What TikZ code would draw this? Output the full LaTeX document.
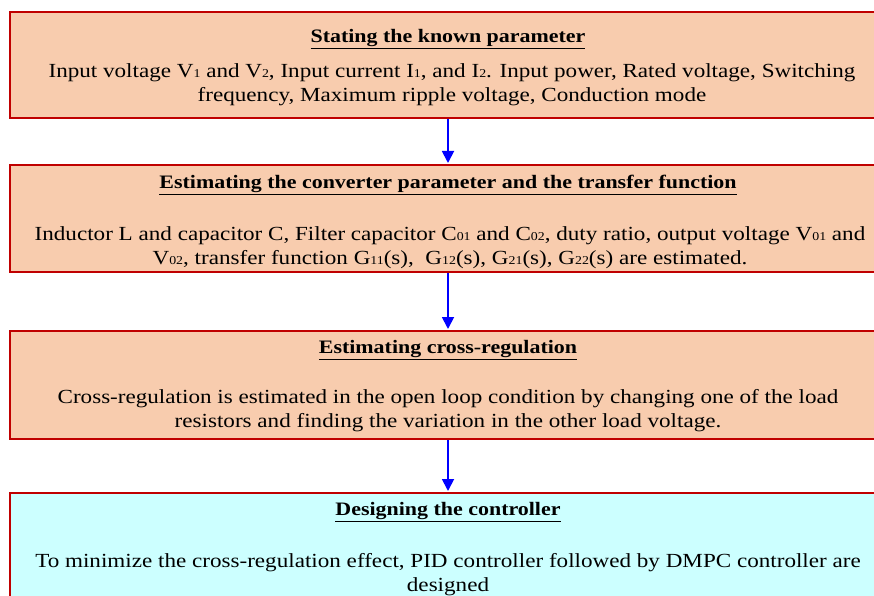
\documentclass[tikz,border=0pt]{standalone}
\usepackage{fontspec}
\setmainfont{Liberation Serif}[FakeStretch=1.155]
\usetikzlibrary{arrows.meta}
\definecolor{boxred}{RGB}{192,0,0}
\definecolor{salmon}{RGB}{248,204,174}
\definecolor{palecyan}{RGB}{204,255,255}
\newcommand\sbs[1]{{\fontsize{12}{12}\selectfont #1}}
\tikzset{
  stage/.style={draw=boxred, line width=2pt, fill=salmon, minimum width=876pt, inner sep=0pt},
  ctrlstage/.style={stage, fill=palecyan},
  heading/.style={font=\fontsize{19}{22}\selectfont\bfseries, inner sep=0pt},
  body/.style={font=\fontsize{20}{24}\selectfont, align=center, inner sep=0pt},
  flow/.style={draw={rgb,255:red,0;green,0;blue,255}, line width=1.8pt,
    -{Triangle[length=12pt,width=12pt]}, shorten >=1pt}
}
\begin{document}
\begin{tikzpicture}[x=1pt,y=-1pt]
\clip (0,0) rectangle (874,596);
\fill[white] (0,0) rectangle (874,596);

% stage boxes
\node[stage, minimum height=106pt] (b1) at (448,65) {};
\node[stage, minimum height=107pt] (b2) at (448,218.5) {};
\node[stage, minimum height=108pt] (b3) at (448,385) {};
\node[ctrlstage, minimum height=130pt] (b4) at (448,558) {};

% headings
\node[heading] (h1) at (448,39) {\underline{Stating the known parameter}};
\node[heading] (h2) at (448,185) {\underline{Estimating the converter parameter and the transfer function}};
\node[heading] (h3) at (448,350) {\underline{Estimating cross-regulation}};
\node[heading] (h4) at (448,512) {\underline{Designing the controller}};

% descriptions
\node[body] (d1) at (452,85) {Input voltage V\sbs{1} and V\sbs{2}, Input current I\sbs{1}, and I\sbs{2}. Input power, Rated voltage, Switching\\
frequency, Maximum ripple voltage, Conduction mode};
\node[body] (d2) at (450,248) {Inductor L and capacitor C, Filter capacitor C\sbs{01} and C\sbs{02}, duty ratio, output voltage V\sbs{01} and\\
V\sbs{02}, transfer function G\sbs{11}(s),\ \ G\sbs{12}(s), G\sbs{21}(s), G\sbs{22}(s) are estimated.};
\node[body] (d3) at (448,411) {Cross-regulation is estimated in the open loop condition by changing one of the load\\
resistors and finding the variation in the other load voltage.};
\node[body] (d4) at (448,575) {To minimize the cross-regulation effect, PID controller followed by DMPC controller are\\
designed};

% flow arrows
\draw[flow] (b1.south) -- (b2.north);
\draw[flow] (b2.south) -- (b3.north);
\draw[flow] (b3.south) -- (b4.north);
\end{tikzpicture}
\end{document}
